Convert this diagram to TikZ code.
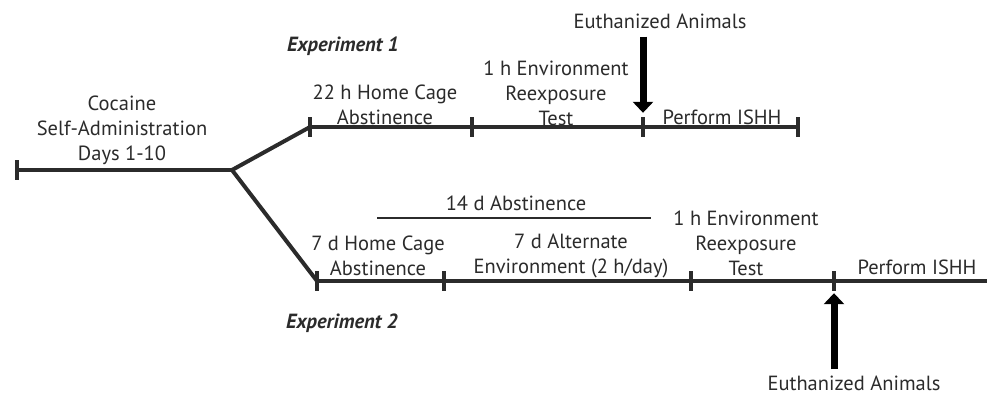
\documentclass[tikz,border=0pt]{standalone}
\usepackage{fontspec}
\setmainfont{PT Sans}
\usetikzlibrary{arrows.meta}
\definecolor{ink}{HTML}{2B2B2B}
\begin{document}
\begin{tikzpicture}[x=1pt,y=-1pt,
  lbl/.style={font=\fontsize{20.5}{25}\selectfont, inner sep=0pt, align=center, text=ink},
  exp/.style={font=\fontsize{20.5}{25}\selectfont\bfseries\itshape, inner sep=0pt, text=ink},
  tickbox/.style={fill=ink, inner sep=0pt, minimum width=3.5pt, minimum height=20pt},
  tl/.style={line width=4pt, draw=ink},
  thin/.style={line width=1.3pt, draw=ink},
  bigarrow/.style={line width=7pt, draw=black, -{Triangle[width=20pt,length=11pt]}}]
\useasboundingbox (0,0) rectangle (987,399);

% start / branch
\node[tickbox] (t0) at (17,170) {};
\coordinate (br) at (232,170);
% upper ticks
\node[tickbox] (u1) at (310,127) {};
\node[tickbox] (u2) at (472,127) {};
\node[tickbox] (u3) at (643,127) {};
\node[tickbox] (u4) at (798,127) {};
% lower ticks
\node[tickbox] (l1) at (317,281) {};
\node[tickbox] (l2) at (444,281) {};
\node[tickbox] (l3) at (691,281) {};
\node[tickbox] (l4) at (834,281) {};
\coordinate (lend) at (987,281);

\draw[tl] (t0.center) -- (br);
\draw[tl, line join=round] (u1.center) -- (br) -- (l1.center);
\draw[tl] (u1.center) -- (u4.center);
\draw[tl] (l1.center) -- (lend);

% texts
\node[lbl] (coc) at (122,130) {Cocaine\\Self-Administration\\Days 1-10};
\node[exp] (e1) at (343,46) {Experiment 1};
\node[lbl] (a1) at (385,105) {22 h Home Cage\\Abstinence};
\node[lbl] (a2) at (556,93) {1 h Environment\\Reexposure\\Test};
\node[lbl] (a3) at (722,117) {Perform ISHH};
\node[lbl] (eu1) at (660,21) {Euthanized Animals};

\node[lbl] (ab14) at (516,203) {14 d Abstinence};
\coordinate (ab14a) at (377,218);
\coordinate (ab14b) at (651,218);
\draw[thin] (ab14a) -- (ab14b);
\node[lbl] (b1) at (378,256) {7 d Home Cage\\Abstinence};
\node[lbl] (b2) at (571,256) {7 d Alternate\\Environment (2 h/day)};
\node[lbl] (b3) at (746,243) {1 h Environment\\Reexposure\\Test};
\node[lbl] (b4) at (917,267) {Perform ISHH};
\node[exp] (e2) at (342,323) {Experiment 2};
\node[lbl] (eu2) at (854,383) {Euthanized Animals};

% arrows
\draw[bigarrow] (eu1.south -| u3) ++(0,8) -- ([yshift=4pt]u3.north);
\draw[bigarrow] (eu2.north -| l4) ++(0,-6) -- ([yshift=-2pt]l4.south);
\end{tikzpicture}
\end{document}
